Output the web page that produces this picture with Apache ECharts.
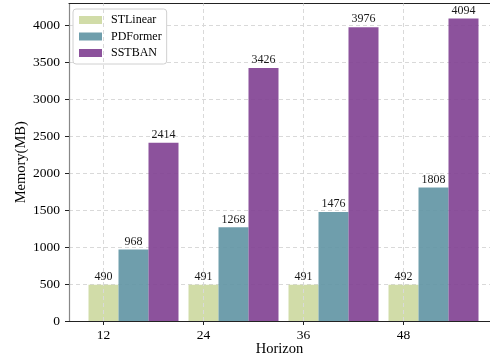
<!DOCTYPE html>
<html>
<head>
<meta charset="utf-8">
<script src="https://cdn.jsdelivr.net/npm/echarts@6/dist/echarts.min.js"></script>
<style>html,body{margin:0;padding:0;background:#fff;}#c{width:490px;height:362px;}</style>
</head>
<body>
<div id="c"></div>
<script>
const categories = ['12', '24', '36', '48'];
const seriesNames = ['STLinear', 'PDFormer', 'SSTBAN'];
const stlinear = [490, 491, 491, 492];
const pdformer = [968, 1268, 1476, 1808];
const sstban = [2414, 3426, 3976, 4094];
const yTicks = [0, 500, 1000, 1500, 2000, 2500, 3000, 3500, 4000];

const colors = ['rgb(204,216,158)', 'rgb(95,148,163)', 'rgb(127,63,145)'];
const groupOffsets = [0, 0.3, 0.6];
const values = [stlinear, pdformer, sstban];
const FONT = '"Liberation Serif", "DejaVu Serif", serif';
const catIdx = categories.map((c, i) => i);
const gridColor = '#d9d9d9';

const chart = echarts.init(document.getElementById('c'), null, {renderer: 'canvas'});
const series = values.map((vals, s) => ({
  name: seriesNames[s],
  type: 'bar',
  barWidth: 30,
  barGap: '-100%',
  z: 3,
  xAxisIndex: 0,
  data: vals.map((v, i) => [catIdx[i] + groupOffsets[s], v]),
  itemStyle: {color: colors[s], opacity: 0.9},
  label: {show: true, position: 'top', distance: 2, color: '#000', fontFamily: FONT, fontSize: 12,
          formatter: p => String(p.value[1])},
  emphasis: {disabled: true}
}));
// vertical grid lines at category ticks (below bars)
series.push({
  type: 'line', name: '_vgrid', z: 1, silent: true, xAxisIndex: 0, data: [],
  markLine: {
    silent: true, symbol: ['none', 'none'], label: {show: false},
    lineStyle: {color: gridColor, type: [4, 3], width: 1},
    emphasis: {disabled: true},
    data: catIdx.map(i => ({xAxis: i}))
  }
});

chart.setOption({
  animation: false,
  textStyle: {fontFamily: FONT},
  grid: {left: 69, top: 3.5, right: 0, bottom: 41, containLabel: false, outerBoundsMode: 'none'},
  legend: {
    orient: 'vertical', left: 73, top: 9,
    data: seriesNames,
    icon: 'rect', itemWidth: 23, itemHeight: 8, itemGap: 2.5,
    padding: [4, 5, 4, 6],
    backgroundColor: '#fff', borderColor: '#d0d0d0', borderWidth: 1, borderRadius: 3,
    textStyle: {fontFamily: FONT, fontSize: 12, color: '#000', padding: [0, 0, 0, 4], lineHeight: 14}
  },
  xAxis: [{
    type: 'value', min: -0.345, max: 3.865,
    name: 'Horizon', nameLocation: 'middle', nameGap: 21, nameMoveOverlap: false,
    nameTextStyle: {fontFamily: FONT, fontSize: 14.5, color: '#000'},
    axisLine: {show: true, onZero: false, lineStyle: {color: '#222', width: 1}},
    axisTick: {show: true, customValues: catIdx, length: 4, lineStyle: {color: '#222'}},
    axisLabel: {customValues: catIdx, margin: 7, fontFamily: FONT, fontSize: 13.5, color: '#000',
                formatter: v => categories[Math.round(v)]},
    splitLine: {show: false}
  }, {
    type: 'value', position: 'top', min: -0.345, max: 3.865,
    axisLine: {show: true, onZero: false, lineStyle: {color: '#222', width: 1}},
    axisTick: {show: false}, axisLabel: {show: false}, splitLine: {show: false}
  }],
  yAxis: {
    type: 'value', min: yTicks[0], max: 4094 * 1.05, interval: 500,
    name: 'Memory(MB)', nameLocation: 'middle', nameGap: 40, nameMoveOverlap: false,
    nameTextStyle: {fontFamily: FONT, fontSize: 14.5, color: '#000'},
    axisLine: {show: true, onZero: false, lineStyle: {color: '#888', width: 1.2}},
    axisTick: {show: true, length: 4, lineStyle: {color: '#222'}},
    axisLabel: {showMaxLabel: false, margin: 9, fontFamily: FONT, fontSize: 13.5, color: '#000',
                formatter: v => String(v)},
    splitLine: {show: true, lineStyle: {color: gridColor, type: [4, 3], width: 1}}
  },
  series: series
});
</script>
</body>
</html>
